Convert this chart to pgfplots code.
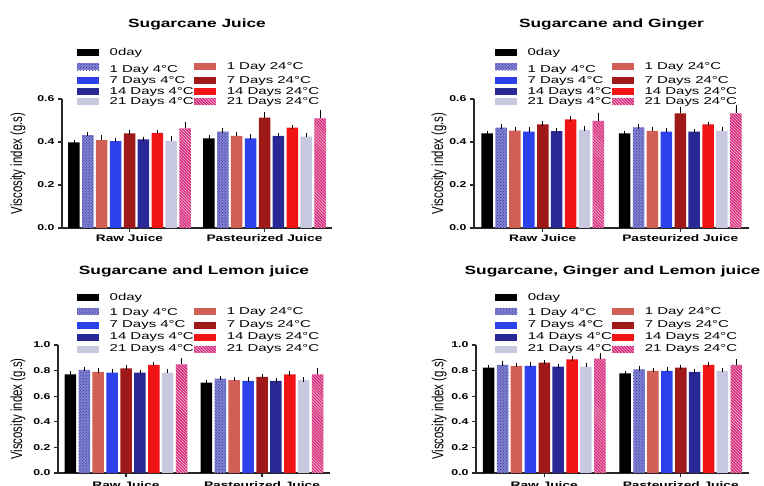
\documentclass[border=0pt]{standalone}
\usepackage{fontspec}
\setmainfont{Liberation Sans}[FakeStretch=1.45]
\newfontfamily\ylabfont{Liberation Sans}
\newfontfamily\legfont{Liberation Sans}[FakeStretch=1.5]
\usepackage{graphicx}
\usepackage{pgfplots}
\usepackage{pgfplotstable}
\pgfplotsset{compat=1.18}
\usetikzlibrary{patterns}

\definecolor{cA}{RGB}{0,0,0}
\definecolor{cBfill}{RGB}{130,130,210}
\definecolor{cBpat}{RGB}{40,40,150}
\definecolor{cC}{RGB}{210,95,85}
\definecolor{cD}{RGB}{45,65,235}
\definecolor{cE}{RGB}{160,25,25}
\definecolor{cF}{RGB}{40,40,150}
\definecolor{cG}{RGB}{240,20,20}
\definecolor{cH}{RGB}{200,200,225}
\definecolor{cI}{RGB}{215,45,125}
\definecolor{axcol}{RGB}{40,40,40}

% Sugarcane Juice
\pgfplotstableread{
g v0 e0 v1 e1 v2 e2 v3 e3 v4 e4 v5 e5 v6 e6 v7 e7 v8 e8
0 0.398 0.003 0.432 0.004 0.409 0.012 0.404 0.006 0.440 0.004 0.412 0.003 0.443 0.003 0.405 0.012 0.463 0.022
1 0.417 0.003 0.448 0.005 0.428 0.010 0.417 0.008 0.513 0.018 0.428 0.004 0.467 0.004 0.425 0.007 0.510 0.027
}\tabA
% Sugarcane and Ginger
\pgfplotstableread{
g v0 e0 v1 e1 v2 e2 v3 e3 v4 e4 v5 e5 v6 e6 v7 e7 v8 e8
0 0.440 0.003 0.467 0.005 0.453 0.008 0.448 0.010 0.482 0.004 0.451 0.003 0.505 0.004 0.456 0.006 0.498 0.028
1 0.440 0.003 0.468 0.005 0.452 0.009 0.448 0.007 0.533 0.018 0.448 0.004 0.482 0.003 0.452 0.008 0.533 0.027
}\tabB
% Sugarcane and Lemon juice
\pgfplotstableread{
g v0 e0 v1 e1 v2 e2 v3 e3 v4 e4 v5 e5 v6 e6 v7 e7 v8 e8
0 0.771 0.005 0.805 0.008 0.790 0.010 0.784 0.012 0.818 0.005 0.784 0.004 0.844 0.006 0.784 0.015 0.849 0.030
1 0.706 0.004 0.738 0.006 0.725 0.008 0.720 0.010 0.750 0.006 0.720 0.004 0.771 0.005 0.725 0.005 0.771 0.030
}\tabC
% Sugarcane, Ginger and Lemon juice
\pgfplotstableread{
g v0 e0 v1 e1 v2 e2 v3 e3 v4 e4 v5 e5 v6 e6 v7 e7 v8 e8
0 0.823 0.004 0.844 0.010 0.836 0.008 0.836 0.012 0.862 0.005 0.831 0.004 0.888 0.006 0.831 0.015 0.894 0.028
1 0.779 0.004 0.810 0.006 0.797 0.010 0.797 0.012 0.823 0.005 0.790 0.004 0.844 0.004 0.797 0.006 0.844 0.030
}\tabD

\pgfplotsset{
  mybar/.style={draw=none,
    error bars/y dir=plus, error bars/y explicit,
    error bars/error bar style={black, line width=0.7bp},
    error bars/error mark options={black, mark size=2.2bp, line width=0.7bp}},
  s0/.style={mybar, fill=cA},
  s1/.style={mybar, fill=cBfill, postaction={pattern=crosshatch dots, pattern color=cBpat}},
  s2/.style={mybar, fill=cC},
  s3/.style={mybar, fill=cD},
  s4/.style={mybar, fill=cE},
  s5/.style={mybar, fill=cF},
  s6/.style={mybar, fill=cG},
  s7/.style={mybar, fill=cH},
  s8/.style={mybar, fill=cI, postaction={pattern=north west lines, pattern color=white!80!cI}},
  panel/.style={
    scale only axis, anchor=south west,
    ybar=2.4bp, bar width=11.5bp,
    axis lines=left, axis line style={-, line width=1.3bp, color=axcol},
    xmin=-0.5, xmax=1.5, ymin=0,
    xtick={0,1}, xticklabels={Raw Juice, Pasteurized Juice},
    tick align=outside, major tick length=4bp,
    tick style={line width=1.1bp, color=axcol},
    x tick label style={font=\bfseries\fontsize{9.5}{11}\selectfont, yshift=1bp},
    y tick label style={font=\bfseries\fontsize{8.5}{10}\selectfont},
    /pgf/number format/assume math mode=true,
    yticklabel style={/pgf/number format/fixed, /pgf/number format/fixed zerofill, /pgf/number format/precision=1},
    title style={font=\bfseries\fontsize{12}{14}\selectfont, anchor=center},
    ylabel={\ylabfont\fontsize{11.5}{12}\selectfont\scalebox{1}[1.4]{Viscosity index (g.s)}},
    legend columns=2, legend cell align=left,
    legend style={draw=none, fill=none, inner sep=0pt, column sep=0bp,
      font=\legfont\fontsize{10}{10.5}\selectfont, nodes={inner sep=0.5bp}, anchor=north west},
    legend image code/.code={\draw[##1,draw=none] (0bp,-3.5bp) rectangle (22bp,3.5bp);},
  }
}

\newcommand{\panelbars}[2]{%
  \addplot[s0] table[x=g,y=v0,y error=e0]{#1}; \addlegendentry{\hspace{10bp}0day}
  \addlegendimage{empty legend}\addlegendentry{}
  \addplot[s1] table[x=g,y=v1,y error=e1]{#1}; \addlegendentry{\hspace{10bp}\rule{0pt}{#2}1 Day 4°C}
  \addplot[s2] table[x=g,y=v2,y error=e2]{#1}; \addlegendentry{\hspace{10bp}1 Day 24°C}
  \addplot[s3] table[x=g,y=v3,y error=e3]{#1}; \addlegendentry{\hspace{10bp}7 Days 4°C}
  \addplot[s4] table[x=g,y=v4,y error=e4]{#1}; \addlegendentry{\hspace{10bp}7 Days 24°C}
  \addplot[s5] table[x=g,y=v5,y error=e5]{#1}; \addlegendentry{\hspace{10bp}14 Days 4°C}
  \addplot[s6] table[x=g,y=v6,y error=e6]{#1}; \addlegendentry{\hspace{10bp}14 Days 24°C}
  \addplot[s7] table[x=g,y=v7,y error=e7]{#1}; \addlegendentry{\hspace{10bp}21 Days 4°C}
  \addplot[s8] table[x=g,y=v8,y error=e8]{#1}; \addlegendentry{\hspace{10bp}21 Days 24°C}
}

\begin{document}
\begin{tikzpicture}
\useasboundingbox (0,0) rectangle (764bp,486bp);

\begin{axis}[panel, at={(62bp,258bp)}, width=270bp, height=129bp,
  ymax=0.6, ytick={0,0.2,0.4,0.6},
  title={Sugarcane Juice}, title style={at={(axis description cs:0.5,1.53)}},
  ylabel style={at={(axis description cs:-0.163,0.5)}, anchor=center},
  legend style={at={(axis description cs:0.0556,1.40)}, row sep=1.1bp}]
\panelbars{\tabA}{14bp}
\end{axis}

\begin{axis}[panel, at={(474bp,258bp)}, width=275bp, height=129bp,
  ymax=0.6, ytick={0,0.2,0.4,0.6},
  title={Sugarcane and Ginger}, title style={at={(axis description cs:0.5,1.53)}},
  ylabel style={at={(axis description cs:-0.127,0.5)}, anchor=center},
  legend style={at={(axis description cs:0.076,1.40)}, row sep=1.1bp}]
\panelbars{\tabB}{14bp}
\end{axis}

\begin{axis}[panel, at={(58bp,13bp)}, width=272bp, height=128bp,
  ymax=1.0, ytick={0,0.2,0.4,0.6,0.8,1.0},
  x tick label style={yshift=-2bp},
  title={Sugarcane and Lemon juice}, title style={at={(axis description cs:0.5,1.53)}},
  ylabel style={at={(axis description cs:-0.147,0.5)}, anchor=center},
  legend style={at={(axis description cs:0.07,1.41)}, row sep=2.5bp}]
\panelbars{\tabC}{10.5bp}
\end{axis}

\begin{axis}[panel, at={(476bp,13bp)}, width=273bp, height=128bp,
  ymax=1.0, ytick={0,0.2,0.4,0.6,0.8,1.0},
  x tick label style={yshift=-2bp},
  title={Sugarcane, Ginger and Lemon juice}, title style={at={(axis description cs:0.5,1.53)}},
  ylabel style={at={(axis description cs:-0.135,0.5)}, anchor=center},
  legend style={at={(axis description cs:0.07,1.41)}, row sep=2.5bp}]
\panelbars{\tabD}{10.5bp}
\end{axis}
\end{tikzpicture}
\end{document}
